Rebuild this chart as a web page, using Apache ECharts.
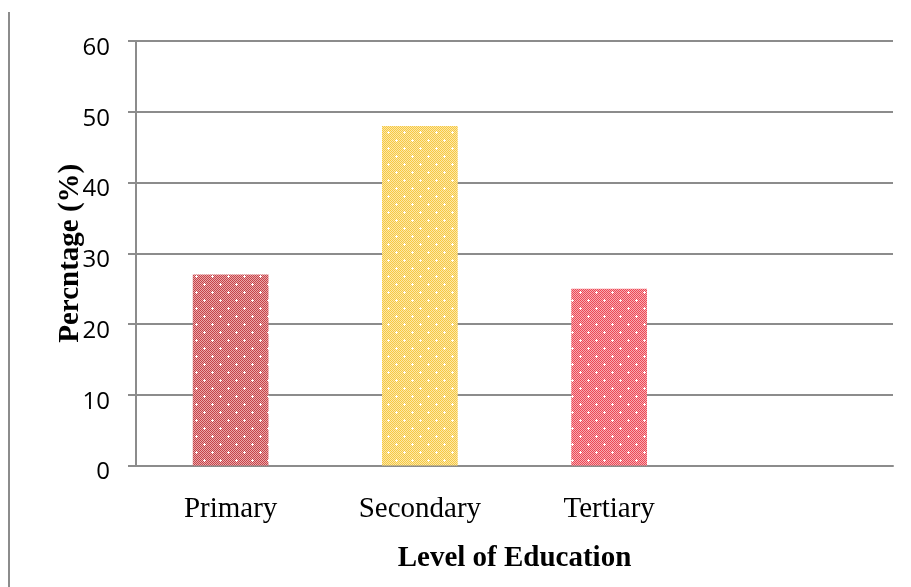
<!DOCTYPE html>
<html>
<head>
<meta charset="utf-8">
<script src="https://cdn.jsdelivr.net/npm/echarts@6/dist/echarts.min.js"></script>
<style>
  html, body { margin: 0; padding: 0; background: #fff; }
  #main { width: 911px; height: 587px; }
</style>
</head>
<body>
<div id="main"></div>
<script>
var categories = ['Primary', 'Secondary', 'Tertiary', ''];
var percentValues = [27, 48, 25, null];
var yTicks = { min: 0, max: 60, interval: 10 };

// dotted checker fill, like the office "dotted grid" pattern
function makePattern(dark, light) {
    var c = document.createElement('canvas');
    c.width = 16;
    c.height = 16;
    var ctx = c.getContext('2d');
    for (var y = 0; y < 16; y++) {
        for (var x = 0; x < 16; x++) {
            ctx.fillStyle = ((x + y) % 2 === 0) ? dark : light;
            ctx.fillRect(x, y, 1, 1);
        }
    }
    ctx.fillStyle = '#ffffff';
    var dots = [[4, 4], [12, 12]];
    for (var i = 0; i < dots.length; i++) {
        var d = dots[i];
        ctx.fillRect(d[0] - 1, d[1], 3, 1);
        ctx.fillRect(d[0], d[1] - 1, 1, 3);
    }
    return { image: c, repeat: 'repeat' };
}

var fills = [
    makePattern('#c4444a', '#eca6a8'),
    makePattern('#f6c844', '#fde8a6'),
    makePattern('#ec4856', '#f8aab0'),
    '#ffffff'
];

var myChart = echarts.init(document.getElementById('main'));
var option = {
    backgroundColor: '#ffffff',
    animation: false,
    grid: { left: 136, right: 18, top: 41, bottom: 121.5 },
    xAxis: {
        type: 'category',
        data: categories,
        name: 'Level of Education',
        nameLocation: 'middle',
        nameGap: 79,
        nameMoveOverlap: false,
        nameTextStyle: { fontFamily: 'Liberation Serif', fontWeight: 'bold', fontSize: 29, color: '#000' },
        axisLine: { lineStyle: { color: '#8c8c8c', width: 2 } },
        axisTick: { show: false },
        axisLabel: { fontFamily: 'Liberation Serif', fontSize: 29, color: '#000', margin: 29 }
    },
    yAxis: {
        type: 'value',
        min: yTicks.min,
        max: yTicks.max,
        interval: yTicks.interval,
        name: 'Percntage (%)',
        nameLocation: 'middle',
        nameGap: 51,
        nameMoveOverlap: false,
        nameTextStyle: { fontFamily: 'Liberation Serif', fontWeight: 'bold', fontSize: 29, color: '#000' },
        axisLine: { show: true, lineStyle: { color: '#8c8c8c', width: 2 } },
        axisTick: { show: true, length: 8, lineStyle: { color: '#8c8c8c', width: 2 } },
        splitLine: { lineStyle: { color: '#8c8c8c', width: 2 } },
        axisLabel: {
            fontFamily: 'Open Sans', fontSize: 24, color: '#000', margin: 26,
            verticalAlign: 'top', lineHeight: 14
        }
    },
    series: [{
        type: 'bar',
        barWidth: '40%',
        data: percentValues.map(function (v, i) {
            return { value: v, itemStyle: { color: fills[i] } };
        })
    }],
    graphic: [{
        type: 'line',
        shape: { x1: 9, y1: 12, x2: 9, y2: 587 },
        style: { stroke: '#8c8c8c', lineWidth: 2 }
    }]
};
myChart.setOption(option);
</script>
</body>
</html>
